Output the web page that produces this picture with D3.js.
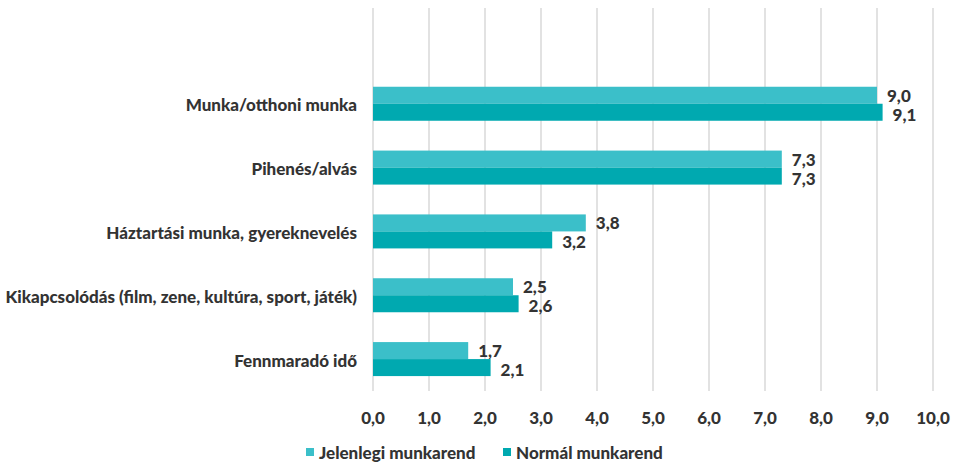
<!DOCTYPE html>
<html>
<head>
<meta charset="utf-8">
<script src="https://cdnjs.cloudflare.com/ajax/libs/d3/7.8.5/d3.min.js"></script>
<style>
  body { margin: 0; background: #fff; }
  svg text { font-family: Lato, 'Open Sans', sans-serif; font-weight: 900; fill: #333; font-size: 17px; }
</style>
</head>
<body>
<svg id="chart" width="954" height="463"></svg>
<script>
const categories = ['Munka/otthoni munka', 'Pihenés/alvás', 'Háztartási munka, gyereknevelés',
  'Kikapcsolódás (film, zene, kultúra, sport, játék)', 'Fennmaradó idő'];
const seriesNames = ['Jelenlegi munkarend', 'Normál munkarend'];
const jelenlegi = [9.0, 7.3, 3.8, 2.5, 1.7];
const normal = [9.1, 7.3, 3.2, 2.6, 2.1];
const ticks = [0, 1, 2, 3, 4, 5, 6, 7, 8, 9, 10];
const colors = ['#3bbfc9', '#00a9b0'];

const svg = d3.select('#chart');
const fmt = v => d3.format('.1f')(v).replace('.', ',');

const x = d3.scaleLinear().domain([0, 10]).range([373, 933]);
// Excel leaves an empty slot above the first category
const y = d3.scaleBand().domain(['', ...categories]).range([8, 391]);
const barH = 17;

// gridlines
svg.append('g')
  .selectAll('line')
  .data(ticks)
  .join('line')
  .attr('x1', d => x(d)).attr('x2', d => x(d))
  .attr('y1', 8).attr('y2', 391)
  .attr('stroke', '#d9d9d9')
  .attr('stroke-width', 1.5);

// tick labels
svg.append('g')
  .selectAll('text')
  .data(ticks)
  .join('text')
  .attr('x', d => x(d))
  .attr('y', 417)
  .attr('text-anchor', 'middle')
  .attr('dominant-baseline', 'central')
  .text(fmt);

// category labels
svg.append('g')
  .selectAll('text')
  .data(categories)
  .join('text')
  .attr('x', 357)
  .attr('y', d => y(d) + y.bandwidth() / 2 + 1)
  .attr('text-anchor', 'end')
  .attr('dominant-baseline', 'central')
  .text(d => d);

const series = [jelenlegi, normal];
series.forEach((vals, s) => {
  const g = svg.append('g');
  const rows = vals.map((v, i) => ({ cat: categories[i], v }));
  const top = d => y(d.cat) + y.bandwidth() / 2 - barH + s * barH;
  g.selectAll('rect')
    .data(rows)
    .join('rect')
    .attr('x', x(0))
    .attr('y', top)
    .attr('width', d => x(d.v) - x(0))
    .attr('height', barH)
    .attr('fill', colors[s]);
  g.selectAll('text')
    .data(rows)
    .join('text')
    .attr('x', d => x(d.v) + 10)
    .attr('y', d => top(d) + barH / 2 + (s ? 2 : 0))
    .attr('dominant-baseline', 'central')
    .text(d => fmt(d.v));
});

// legend
const legend = svg.append('g');
const lx = [306, 503];
seriesNames.forEach((name, i) => {
  legend.append('rect')
    .attr('x', lx[i]).attr('y', 448)
    .attr('width', 8).attr('height', 8)
    .attr('fill', colors[i]);
  legend.append('text')
    .attr('x', lx[i] + 13).attr('y', 452)
    .attr('dominant-baseline', 'central')
    .text(name);
});
</script>
</body>
</html>
